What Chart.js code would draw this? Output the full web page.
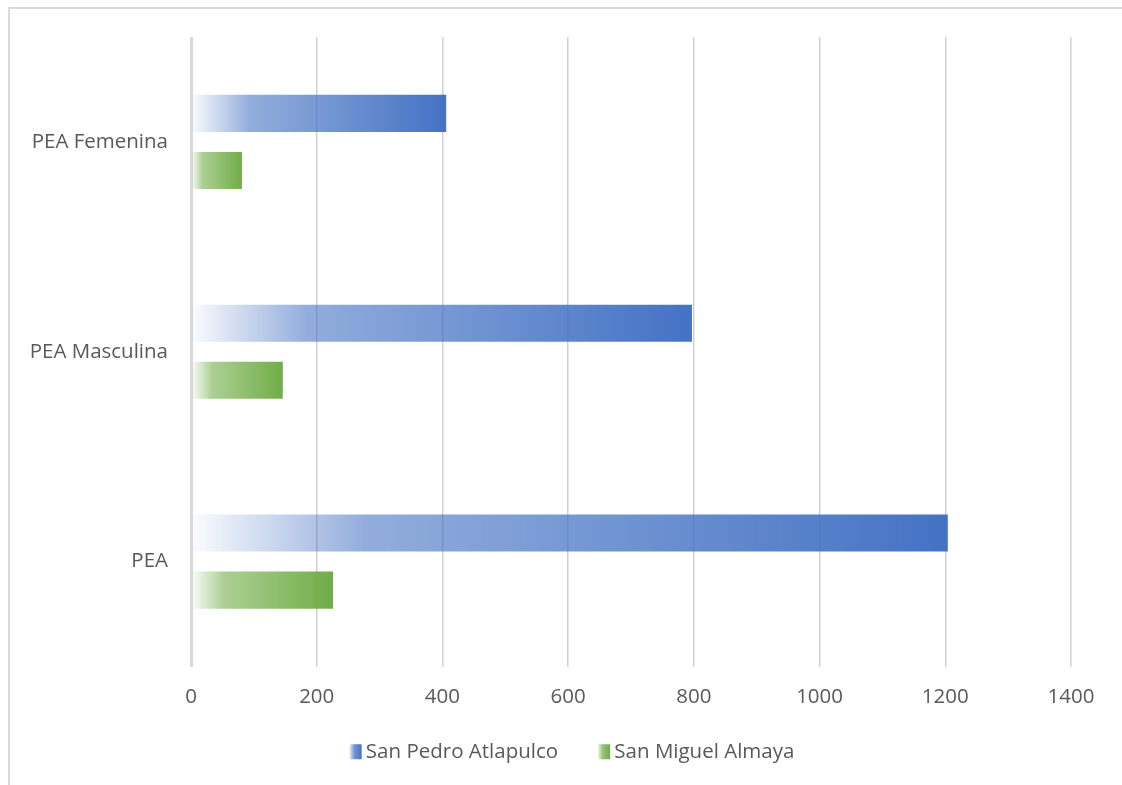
<!DOCTYPE html>
<html>
<head>
<meta charset="utf-8">
<script src="https://cdn.jsdelivr.net/npm/chart.js@4/dist/chart.umd.min.js"></script>
<style>
  html, body { margin: 0; padding: 0; background: #fff; }
  #wrap { position: absolute; left: 0; top: 0; width: 1122px; height: 785px; overflow: hidden; }
  #frame { position: absolute; left: 8px; top: 7px; width: 1200px; height: 900px;
           border-left: 2px solid #d9d9d9; border-top: 2px solid #d9d9d9; }
  canvas { position: absolute; left: 0; top: 0; }
</style>
</head>
<body>
<div id="wrap">
  <div id="frame"></div>
  <canvas id="c" width="1122" height="785"></canvas>
</div>
<script>
const categories = ["PEA Femenina", "PEA Masculina", "PEA"];
const seriesNames = ["San Pedro Atlapulco", "San Miguel Almaya"];
const sanPedro = [406, 797, 1204];
const sanMiguel = [81, 146, 226];
const xTicks = [0, 200, 400, 600, 800, 1000, 1200, 1400];
const baseColors = [[68, 114, 196], [112, 173, 71]];

function rgba(c, a) { return `rgba(${c[0]},${c[1]},${c[2]},${a})`; }

function barGradient(ctx, x0, x1, c) {
  const g = ctx.createLinearGradient(x0, 0, x1, 0);
  g.addColorStop(0, rgba(c, 0.02));
  g.addColorStop(0.23, rgba(c, 0.58));
  g.addColorStop(1, rgba(c, 1));
  return g;
}

function scriptedBg(dsIndex) {
  return function (context) {
    const chart = context.chart;
    const c = baseColors[dsIndex];
    if (context.type !== 'data' || !chart.chartArea) return rgba(c, 1);
    const xs = chart.scales.x;
    const x0 = xs.getPixelForValue(0);
    const x1 = xs.getPixelForValue(context.raw);
    return barGradient(chart.ctx, x0, x1, c);
  };
}

const FONT_SIZE = 20.5;
const LEGEND_PAD = 40;
const font = { family: "'Open Sans', 'Liberation Sans', sans-serif", size: FONT_SIZE };

const legendBoxes = {
  id: 'legendBoxes',
  beforeDraw(chart) {
    const lg = chart.legend;
    if (lg && !lg._shifted) {
      lg.top -= 13; lg.bottom -= 13; lg._shifted = true;
    }
  },
  afterDraw(chart) {
    const lg = chart.legend;
    if (!lg || !lg.legendHitBoxes) return;
    const ctx = chart.ctx;
    const cy = lg.top + LEGEND_PAD + FONT_SIZE / 2;
    lg.legendHitBoxes.forEach((hb, i) => {
      const c = baseColors[i];
      const w = 12, h = 15;
      const x = hb.left, y = cy - h / 2;
      const g = ctx.createLinearGradient(x, 0, x + w, 0);
      g.addColorStop(0, rgba(c, 0.15));
      g.addColorStop(0.4, rgba(c, 0.75));
      g.addColorStop(1, rgba(c, 1));
      ctx.save();
      ctx.fillStyle = g;
      ctx.fillRect(x, y, w, h);
      ctx.restore();
    });
  }
};

new Chart(document.getElementById('c'), {
  type: 'bar',
  data: {
    labels: categories,
    datasets: [
      { label: seriesNames[0], data: sanPedro, backgroundColor: scriptedBg(0),
        borderWidth: 0, categoryPercentage: 0.544, barPercentage: 0.65 },
      { label: seriesNames[1], data: sanMiguel, backgroundColor: scriptedBg(1),
        borderWidth: 0, categoryPercentage: 0.544, barPercentage: 0.65 }
    ]
  },
  plugins: [legendBoxes],
  options: {
    indexAxis: 'y',
    responsive: false,
    animation: false,
    layout: { padding: { left: 22, right: 0, top: 37, bottom: 0 } },
    scales: {
      x: {
        min: 0, max: 1400,
        afterBuildTicks: (axis) => { axis.ticks = xTicks.map(v => ({ value: v })); },
        afterFit: (axis) => { axis.height = 48; },
        grid: {
          color: (ctx) => ctx.tick && ctx.tick.value === 0 ? '#d9d9d9' : '#d0d0d0',
          lineWidth: (ctx) => ctx.tick && ctx.tick.value === 0 ? 3 : 1.5,
          drawTicks: false
        },
        border: { display: false },
        ticks: { color: '#595959', font: font, padding: 18, callback: (v) => String(v) }
      },
      y: {
        afterFit: (axis) => { axis.width = 169; },
        grid: { display: false, drawTicks: false },
        border: { display: false },
        ticks: { color: '#595959', font: font, padding: 23 }
      },
      yr: {
        type: 'category',
        position: 'right',
        afterFit: (axis) => { axis.width = 51; },
        grid: { display: false, drawTicks: false },
        border: { display: false },
        ticks: { display: false }
      }
    },
    plugins: {
      legend: {
        position: 'bottom',
        labels: {
          color: '#595959',
          font: font,
          boxWidth: 6,
          boxHeight: 15,
          padding: LEGEND_PAD,
          generateLabels: (chart) => chart.data.datasets.map((ds, i) => ({
            text: ds.label,
            fillStyle: 'rgba(0,0,0,0)',
            strokeStyle: 'rgba(0,0,0,0)',
            fontColor: '#595959',
            lineWidth: 0,
            datasetIndex: i,
            hidden: false
          }))
        }
      },
      tooltip: { enabled: false }
    }
  }
});
</script>
</body>
</html>
